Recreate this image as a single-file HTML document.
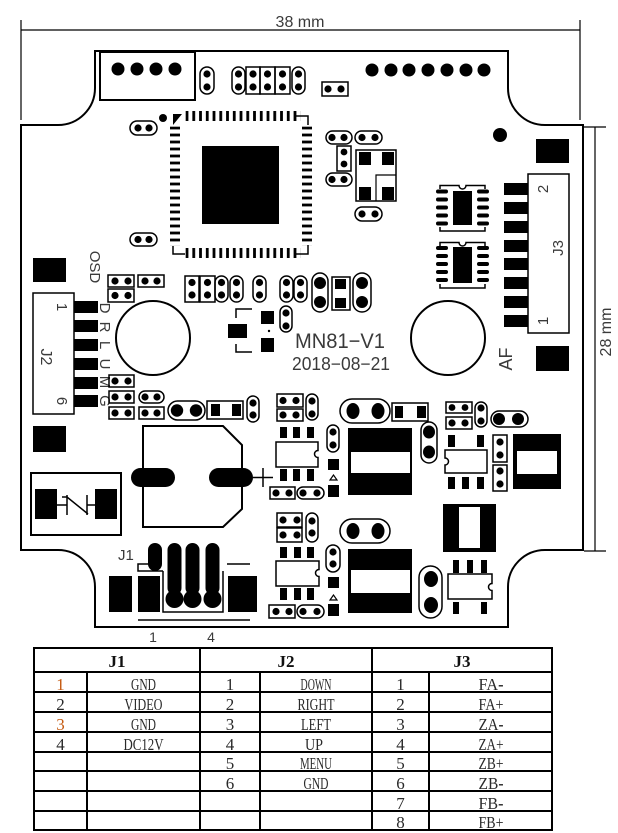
<!DOCTYPE html>
<html><head><meta charset="utf-8"><style>
html,body{margin:0;padding:0;background:#fff;}
svg{display:block;}
.o{fill:none;stroke:#000;stroke-width:1.5}
.b{fill:none;stroke:#000;stroke-width:2}
.l{fill:none;stroke:#000;stroke-width:1.2}
.t{font-family:"Liberation Sans",sans-serif;fill:#3a3a3a}
.s{font-family:"Liberation Serif",serif;fill:#2a2a2a;font-size:17px;text-anchor:middle}
.h{font-family:"Liberation Serif",serif;fill:#111;font-size:17px;font-weight:bold;text-anchor:middle}
</style></head><body>
<svg width="618" height="833" viewBox="0 0 618 833" xmlns="http://www.w3.org/2000/svg">
<defs>
<pattern id="pv" patternUnits="userSpaceOnUse" x="185.6" y="0" width="6.75" height="400"><rect x="0" y="0" width="2.8" height="400" fill="#000"/></pattern>
<pattern id="ph" patternUnits="userSpaceOnUse" x="0" y="126.6" width="400" height="7"><rect x="0" y="0" width="400" height="2.8" fill="#000"/></pattern>
</defs>
<rect width="618" height="833" fill="#fff"/>

<!-- dimensions -->
<line x1="21" y1="30" x2="580" y2="30" class="l"/>
<line x1="21" y1="20" x2="21" y2="120" class="l"/>
<line x1="580" y1="20" x2="580" y2="120" class="l"/>
<text x="300" y="27" font-size="16" text-anchor="middle" class="t">38 mm</text>
<line x1="595" y1="127" x2="595" y2="551" class="l"/>
<line x1="584" y1="127" x2="606" y2="127" class="l"/>
<line x1="584" y1="551" x2="606" y2="551" class="l"/>
<text transform="translate(611,332) rotate(-90)" font-size="16" text-anchor="middle" class="t">28 mm</text>

<!-- board outline -->
<path class="b" d="M95,51 L508,51 L508,88 A37,37 0 0 0 545,125 L583,125 L583,550 L545,550 A37,37 0 0 0 508,587 L508,627 L95,627 L95,587 A37,37 0 0 0 58,550 L21,550 L21,125 L58,125 A37,37 0 0 0 95,88 Z"/>

<!-- top 4-dot connector -->
<rect x="100" y="52" width="95" height="48" class="b"/>
<g fill="#000"><circle cx="118" cy="69" r="6.5"/><circle cx="137" cy="69" r="6.5"/><circle cx="156" cy="69" r="6.5"/><circle cx="175" cy="69" r="6.5"/></g>

<!-- top pads -->
<rect x="200" y="67" width="14" height="27" rx="7" class="o"/>
<rect x="232" y="67" width="13" height="27" rx="6.5" class="o"/>
<rect x="246" y="67" width="14" height="27" class="o"/>
<rect x="260" y="67" width="15" height="27" class="o"/>
<rect x="275" y="67" width="15" height="27" class="o"/>
<rect x="292" y="67" width="13" height="27" rx="6.5" class="o"/>
<rect x="322" y="82" width="26" height="14" class="o"/>
<g fill="#000">
<circle cx="207" cy="74" r="3.6"/><circle cx="207" cy="87" r="3.6"/>
<circle cx="238.5" cy="74" r="3.6"/><circle cx="238.5" cy="87" r="3.6"/>
<circle cx="253" cy="74" r="3.6"/><circle cx="253" cy="87" r="3.6"/>
<circle cx="267.5" cy="74" r="3.6"/><circle cx="267.5" cy="87" r="3.6"/>
<circle cx="282.5" cy="74" r="3.6"/><circle cx="282.5" cy="87" r="3.6"/>
<circle cx="298.5" cy="74" r="3.6"/><circle cx="298.5" cy="87" r="3.6"/>
<circle cx="328" cy="89" r="3.6"/><circle cx="341" cy="89" r="3.6"/>
<circle cx="372" cy="70" r="6.5"/><circle cx="391" cy="70" r="6.5"/><circle cx="409" cy="70" r="6.5"/><circle cx="428" cy="70" r="6.5"/><circle cx="447" cy="70" r="6.5"/><circle cx="466" cy="70" r="6.5"/><circle cx="484" cy="70" r="6.5"/>
<circle cx="500" cy="135" r="7"/>
<circle cx="163" cy="118" r="4"/>
<polygon points="173,114 182,114 173,125"/>
</g>
<rect x="130" y="121" width="27" height="14" rx="7" class="o"/>
<rect x="130" y="233" width="27" height="13" rx="6.5" class="o"/>
<g fill="#000"><circle cx="138" cy="128" r="3.6"/><circle cx="149" cy="128" r="3.6"/><circle cx="138" cy="239.5" r="3.6"/><circle cx="149" cy="239.5" r="3.6"/></g>

<!-- QFP IC -->
<rect x="185.6" y="111" width="114.75" height="10" fill="url(#pv)"/>
<rect x="185.6" y="248" width="114.75" height="10" fill="url(#pv)"/>
<rect x="170" y="126.6" width="10" height="119" fill="url(#ph)"/>
<rect x="302" y="126.6" width="10" height="119" fill="url(#ph)"/>
<rect x="202" y="146" width="77" height="78" fill="#000"/>
<polyline points="296,116 308,116 308,125" class="o" stroke-width="2"/>
<polyline points="173,246 173,254 185,254" class="o" stroke-width="2"/>
<polyline points="308,245 308,254 296,254" class="o" stroke-width="2"/>

<!-- right of IC -->
<rect x="326" y="131" width="26" height="13" rx="6.5" class="o"/>
<rect x="355" y="131" width="27" height="13" rx="6.5" class="o"/>
<rect x="337" y="146" width="14" height="25" class="o"/>
<rect x="326" y="173" width="26" height="13" rx="6.5" class="o"/>
<rect x="355" y="207" width="27" height="14" rx="7" class="o"/>
<g fill="#000">
<circle cx="332" cy="137.5" r="3.6"/><circle cx="344" cy="137.5" r="3.6"/>
<circle cx="362" cy="137.5" r="3.6"/><circle cx="375" cy="137.5" r="3.6"/>
<circle cx="344" cy="152" r="3.4"/><circle cx="344" cy="164" r="3.4"/>
<circle cx="332" cy="179.5" r="3.6"/><circle cx="344" cy="179.5" r="3.6"/>
<circle cx="362" cy="214" r="3.6"/><circle cx="375" cy="214" r="3.6"/>
</g>
<rect x="356" y="150" width="40" height="51" class="o"/>
<g fill="#000"><rect x="359" y="152" width="12" height="13"/><rect x="382" y="152" width="12" height="13"/><rect x="359" y="187" width="12" height="13"/><rect x="382" y="187" width="12" height="13"/></g>
<polyline points="396,175 376,175 376,201" class="l"/>

<!-- SOIC ICs -->
<g fill="#000">
<rect x="436" y="189.5" width="12" height="4" rx="2"/><rect x="436" y="197.5" width="12" height="4" rx="2"/><rect x="436" y="205.5" width="12" height="4" rx="2"/><rect x="436" y="213.5" width="12" height="4" rx="2"/><rect x="436" y="221.5" width="12" height="4" rx="2"/>
<rect x="477" y="189.5" width="12" height="4" rx="2"/><rect x="477" y="197.5" width="12" height="4" rx="2"/><rect x="477" y="205.5" width="12" height="4" rx="2"/><rect x="477" y="213.5" width="12" height="4" rx="2"/><rect x="477" y="221.5" width="12" height="4" rx="2"/>
<rect x="453" y="191" width="19" height="34"/>
<rect x="436" y="246" width="12" height="4" rx="2"/><rect x="436" y="254" width="12" height="4" rx="2"/><rect x="436" y="262" width="12" height="4" rx="2"/><rect x="436" y="270" width="12" height="4" rx="2"/><rect x="436" y="278" width="12" height="4" rx="2"/>
<rect x="477" y="246" width="12" height="4" rx="2"/><rect x="477" y="254" width="12" height="4" rx="2"/><rect x="477" y="262" width="12" height="4" rx="2"/><rect x="477" y="270" width="12" height="4" rx="2"/><rect x="477" y="278" width="12" height="4" rx="2"/>
<rect x="453" y="247" width="19" height="36"/>
</g>
<path class="o" d="M440,189 V185.5 H459 A3.5,3.5 0 0 0 466,185.5 H485 V189"/>
<path class="o" d="M440,227 V231 H485 V227"/>
<path class="o" d="M440,246 V242.5 H459 A3.5,3.5 0 0 0 466,242.5 H485 V246"/>
<path class="o" d="M440,284 V288 H485 V284"/>

<!-- J3 -->
<rect x="528" y="174" width="41" height="159" class="o"/>
<g fill="#000">
<rect x="504" y="183" width="24" height="12"/><rect x="504" y="202" width="24" height="12"/><rect x="504" y="221" width="24" height="12"/><rect x="504" y="240" width="24" height="12"/><rect x="504" y="258" width="24" height="12"/><rect x="504" y="277" width="24" height="12"/><rect x="504" y="296" width="24" height="12"/><rect x="504" y="315" width="24" height="12"/>
<rect x="536" y="139" width="33" height="24"/><rect x="536" y="346" width="33" height="25"/>
</g>
<text transform="translate(548,189) rotate(-90)" font-size="15" text-anchor="middle" class="t">2</text>
<text transform="translate(563,248) rotate(-90)" font-size="15" text-anchor="middle" class="t">J3</text>
<text transform="translate(548,321) rotate(-90)" font-size="15" text-anchor="middle" class="t">1</text>
<text transform="translate(512,359) rotate(-90)" font-size="18" text-anchor="middle" class="t">AF</text>

<!-- circles -->
<circle cx="153" cy="338" r="37" class="b"/>
<circle cx="448" cy="338" r="37" class="b"/>

<!-- J2 -->
<g fill="#000">
<rect x="33" y="258" width="33" height="24"/><rect x="33" y="426" width="33" height="26"/>
<rect x="74" y="301" width="24" height="12"/><rect x="74" y="320" width="24" height="12"/><rect x="74" y="339" width="24" height="12"/><rect x="74" y="358" width="24" height="12"/><rect x="74" y="377" width="24" height="12"/><rect x="74" y="395" width="24" height="12"/>
</g>
<rect x="33" y="293" width="41" height="121" class="o"/>
<text transform="translate(57,307) rotate(90)" font-size="15" text-anchor="middle" class="t">1</text>
<text transform="translate(41,357) rotate(90)" font-size="16" text-anchor="middle" class="t">J2</text>
<text transform="translate(57,401) rotate(90)" font-size="15" text-anchor="middle" class="t">6</text>
<text transform="translate(90,267) rotate(90)" font-size="15" text-anchor="middle" class="t">OSD</text>
<g class="t" font-size="15" text-anchor="middle">
<text transform="translate(100,308) rotate(90)">D</text>
<text transform="translate(100,327) rotate(90)">R</text>
<text transform="translate(100,345) rotate(90)">L</text>
<text transform="translate(100,364) rotate(90)">U</text>
<text transform="translate(100,382) rotate(90)">M</text>
<text transform="translate(100,401) rotate(90)">G</text>
</g>

<!-- OSD pads -->
<rect x="108" y="275" width="26" height="12" class="o"/>
<rect x="138" y="275" width="26" height="12" class="o"/>
<rect x="108" y="289" width="26" height="13" class="o"/>
<rect x="109" y="375" width="25" height="12" class="o"/>
<rect x="109" y="391" width="25" height="12" class="o"/>
<rect x="109" y="407" width="25" height="12" class="o"/>
<rect x="139" y="391" width="25" height="12" rx="6" class="o"/>
<rect x="139" y="407" width="25" height="12" class="o"/>
<rect x="168" y="401" width="37" height="19" rx="9.5" class="o"/>
<rect x="207" y="401" width="36" height="18" class="o"/>
<rect x="247" y="396" width="12" height="26" rx="6" class="o"/>
<g fill="#000">
<circle cx="115" cy="281" r="3.6"/><circle cx="128" cy="281" r="3.6"/>
<circle cx="145" cy="281" r="3.6"/><circle cx="157" cy="281" r="3.6"/>
<circle cx="115" cy="295.5" r="3.6"/><circle cx="128" cy="295.5" r="3.6"/>
<circle cx="115" cy="381" r="3.6"/><circle cx="128" cy="381" r="3.6"/>
<circle cx="115" cy="397" r="3.6"/><circle cx="128" cy="397" r="3.6"/>
<circle cx="115" cy="413" r="3.6"/><circle cx="128" cy="413" r="3.6"/>
<circle cx="145" cy="397" r="3.6"/><circle cx="157" cy="397" r="3.6"/>
<circle cx="145" cy="413" r="3.6"/><circle cx="157" cy="413" r="3.6"/>
<circle cx="177" cy="410.5" r="6.2"/><circle cx="196" cy="410.5" r="6.2"/>
<rect x="211" y="404" width="9" height="12"/><rect x="232" y="404" width="9" height="12"/>
<circle cx="253" cy="403" r="3.6"/><circle cx="253" cy="415" r="3.6"/>
</g>

<!-- pad row under IC -->
<rect x="185" y="276" width="14" height="26" class="o"/>
<rect x="200" y="276" width="15" height="26" class="o"/>
<rect x="215" y="276" width="13" height="26" rx="6.5" class="o"/>
<rect x="230" y="276" width="13" height="26" rx="6.5" class="o"/>
<rect x="253" y="276" width="13" height="26" rx="6.5" class="o"/>
<rect x="280" y="276" width="13" height="26" rx="6.5" class="o"/>
<rect x="294" y="276" width="13" height="26" rx="6.5" class="o"/>
<rect x="312" y="273" width="16" height="39" rx="8" class="o"/>
<rect x="332" y="277" width="18" height="33" class="o"/>
<rect x="353" y="273" width="18" height="39" rx="9" class="o"/>
<rect x="280" y="306" width="12" height="26" rx="6" class="o"/>
<g fill="#000">
<circle cx="192" cy="282.5" r="3.6"/><circle cx="192" cy="295" r="3.6"/>
<circle cx="207.5" cy="282.5" r="3.6"/><circle cx="207.5" cy="295" r="3.6"/>
<circle cx="221.5" cy="282.5" r="3.6"/><circle cx="221.5" cy="295" r="3.6"/>
<circle cx="236.5" cy="282.5" r="3.6"/><circle cx="236.5" cy="295" r="3.6"/>
<circle cx="259.5" cy="282.5" r="3.6"/><circle cx="259.5" cy="295" r="3.6"/>
<circle cx="286.5" cy="282.5" r="3.6"/><circle cx="286.5" cy="295" r="3.6"/>
<circle cx="300.5" cy="282.5" r="3.6"/><circle cx="300.5" cy="295" r="3.6"/>
<circle cx="320" cy="283" r="6"/><circle cx="320" cy="302" r="6"/>
<rect x="335" y="279" width="11" height="10"/><rect x="335" y="298" width="11" height="10"/>
<circle cx="362" cy="283" r="6"/><circle cx="362" cy="302" r="6"/>
<circle cx="286" cy="313" r="3.6"/><circle cx="286" cy="326" r="3.6"/>
<rect x="228" y="324" width="19" height="14"/>
<rect x="261" y="311" width="13" height="13"/><rect x="261" y="338" width="13" height="14"/>
<circle cx="269" cy="331" r="1.2"/>
</g>
<polyline points="252,309 236,309 236,318" class="o"/>
<polyline points="236,344 236,352 252,352" class="o"/>

<text x="295" y="348" font-size="21" class="t" textLength="90" lengthAdjust="spacingAndGlyphs">MN81−V1</text>
<text x="292" y="370" font-size="18" class="t" textLength="98" lengthAdjust="spacingAndGlyphs">2018−08−21</text>

<!-- battery holder -->
<polygon points="143,426 223,426 242,445 242,509 223,527 143,527" class="b"/>
<rect x="131" y="468" width="44" height="19" rx="9.5" fill="#000"/>
<rect x="209" y="468" width="44" height="19" rx="9.5" fill="#000"/>
<line x1="253" y1="477.5" x2="273" y2="477.5" class="o" stroke-width="2"/>
<line x1="263" y1="468" x2="263" y2="487" class="o" stroke-width="2"/>

<!-- varistor -->
<rect x="31" y="473" width="90" height="62" class="b"/>
<g fill="#000"><rect x="35" y="489" width="22" height="30"/><rect x="95" y="489" width="22" height="30"/></g>
<g class="o" stroke-width="2">
<line x1="57" y1="505" x2="67" y2="505"/>
<line x1="67" y1="495" x2="67" y2="515"/>
<line x1="87" y1="495" x2="87" y2="515"/>
<line x1="87" y1="505" x2="95" y2="505"/>
<polyline points="62,497 67,497 88,514"/>
</g>

<!-- J1 -->
<text x="118" y="560" font-size="15" class="t">J1</text>
<g fill="#000">
<rect x="109" y="576" width="23" height="36"/>
<rect x="138" y="576" width="22" height="36"/>
<rect x="228" y="576" width="29" height="36"/>
<rect x="148" y="543" width="14" height="28" rx="7"/>
<rect x="167.5" y="543" width="14" height="52" rx="7"/><circle cx="174.5" cy="599" r="9"/>
<rect x="185.5" y="543" width="14" height="52" rx="7"/><circle cx="192.5" cy="599" r="9"/>
<rect x="205.5" y="543" width="14" height="52" rx="7"/><circle cx="212.5" cy="599" r="9"/>
</g>
<polyline points="150,564 138,564 138,571 163,571" class="o"/>
<polyline points="163,571 163,612 223,612 223,571" class="o"/>
<line x1="227" y1="564" x2="250" y2="564" class="o"/>
<line x1="138" y1="620" x2="250" y2="620" class="o"/>
<text x="153" y="642" font-size="14" text-anchor="middle" class="t">1</text>
<text x="211" y="642" font-size="14" text-anchor="middle" class="t">4</text>

<!-- middle column upper -->
<rect x="277" y="394" width="26" height="13" class="o"/>
<rect x="277" y="409" width="26" height="12" class="o"/>
<rect x="306" y="394" width="12" height="26" rx="6" class="o"/>
<path class="o" d="M276,442 H318 V450.5 A3.5,3.5 0 0 0 318,457.5 V467 H276 Z"/>
<rect x="327" y="425" width="12" height="27" rx="6" class="o"/>
<polygon points="333.5,475 330,480 337,480" class="l"/>
<rect x="270" y="487" width="25" height="12" class="o"/>
<rect x="297" y="487" width="27" height="12" rx="6" class="o"/>
<g fill="#000">
<circle cx="283" cy="400.5" r="3.6"/><circle cx="296" cy="400.5" r="3.6"/>
<circle cx="283" cy="415" r="3.6"/><circle cx="296" cy="415" r="3.6"/>
<circle cx="312" cy="401" r="3.6"/><circle cx="312" cy="414" r="3.6"/>
<rect x="280" y="427" width="7" height="11"/><rect x="293" y="427" width="7" height="11"/><rect x="307" y="427" width="7" height="11"/>
<rect x="280" y="469" width="7" height="12"/><rect x="293" y="469" width="7" height="12"/><rect x="307" y="469" width="7" height="12"/>
<circle cx="333" cy="432" r="3.6"/><circle cx="333" cy="445" r="3.6"/>
<rect x="328" y="459" width="11" height="11"/><rect x="328" y="485" width="11" height="12"/>
<circle cx="276" cy="493" r="3.6"/><circle cx="289" cy="493" r="3.6"/>
<circle cx="303" cy="493" r="3.6"/><circle cx="317" cy="493" r="3.6"/>
</g>

<!-- middle column lower -->
<rect x="277" y="513" width="25" height="14" class="o"/>
<rect x="277" y="528" width="25" height="14" class="o"/>
<rect x="306" y="513" width="12" height="29" rx="6" class="o"/>
<path class="o" d="M276,561 H319 V569.5 A3.5,3.5 0 0 0 319,576.5 V586 H276 Z"/>
<rect x="326" y="545" width="14" height="27" rx="7" class="o"/>
<polygon points="333.5,595 330,600 337,600" class="l"/>
<rect x="269" y="605" width="26" height="13" class="o"/>
<rect x="297" y="605" width="27" height="13" rx="6.5" class="o"/>
<g fill="#000">
<circle cx="283" cy="520" r="3.6"/><circle cx="297" cy="520" r="3.6"/>
<circle cx="283" cy="535" r="3.6"/><circle cx="297" cy="535" r="3.6"/>
<circle cx="312" cy="521" r="3.6"/><circle cx="312" cy="533" r="3.6"/>
<rect x="280" y="547" width="7" height="11"/><rect x="294" y="547" width="7" height="11"/><rect x="307" y="547" width="7" height="11"/>
<rect x="280" y="588" width="7" height="12"/><rect x="294" y="588" width="7" height="12"/><rect x="307" y="588" width="7" height="12"/>
<circle cx="333" cy="552" r="3.6"/><circle cx="333" cy="564" r="3.6"/>
<rect x="328" y="577" width="11" height="11"/><rect x="328" y="604" width="11" height="12"/>
<circle cx="276" cy="611.5" r="3.6"/><circle cx="289" cy="611.5" r="3.6"/>
<circle cx="303" cy="611.5" r="3.6"/><circle cx="317" cy="611.5" r="3.6"/>
</g>

<!-- right upper components -->
<rect x="340" y="399" width="50" height="24" rx="12" class="o"/>
<rect x="392" y="403" width="36" height="18" class="o"/>
<rect x="421" y="422" width="16" height="41" rx="8" class="o"/>
<rect x="446" y="402" width="26" height="11" class="o"/>
<rect x="446" y="417" width="26" height="12" class="o"/>
<rect x="475" y="402" width="12" height="25" rx="6" class="o"/>
<rect x="491" y="411" width="37" height="16" rx="8" class="o"/>
<path class="o" d="M445,450 H487 V473 H445 V465 A3.5,3.5 0 0 0 445,458 Z"/>
<rect x="493" y="435" width="14" height="27" class="o"/>
<rect x="493" y="465" width="14" height="26" class="o"/>
<g fill="#000">
<ellipse cx="353" cy="411" rx="6.5" ry="8"/><ellipse cx="378" cy="411" rx="6.5" ry="8"/>
<rect x="395" y="406" width="8" height="12"/><rect x="417" y="406" width="9" height="12"/>
<rect x="348" y="428" width="64" height="67"/>
<ellipse cx="429" cy="432" rx="6" ry="6.5"/><ellipse cx="429" cy="452" rx="6" ry="6.5"/>
<circle cx="452" cy="407.5" r="3.4"/><circle cx="465" cy="407.5" r="3.4"/>
<circle cx="452" cy="423" r="3.6"/><circle cx="465" cy="423" r="3.6"/>
<circle cx="481" cy="408" r="3.6"/><circle cx="481" cy="421" r="3.6"/>
<circle cx="499" cy="419" r="6"/><circle cx="518" cy="419" r="6"/>
<rect x="448" y="435" width="7" height="12"/><rect x="477" y="435" width="7" height="12"/>
<rect x="448" y="477" width="7" height="12"/><rect x="462" y="477" width="7" height="12"/><rect x="477" y="477" width="7" height="12"/>
<circle cx="500" cy="442" r="3.6"/><circle cx="500" cy="455" r="3.6"/>
<circle cx="500" cy="471" r="3.6"/><circle cx="500" cy="484" r="3.6"/>
<rect x="513" y="434" width="48" height="55"/>
</g>
<rect x="351" y="452" width="59" height="21" fill="#fff"/>
<rect x="517" y="451" width="40" height="23" fill="#fff"/>

<!-- right lower components -->
<rect x="340" y="519" width="50" height="24" rx="12" class="o"/>
<rect x="419" y="566" width="23" height="52" rx="11.5" class="o"/>
<path class="o" d="M448,574 H492 V583.5 A3.5,3.5 0 0 0 492,590.5 V599 H448 Z"/>
<g fill="#000">
<rect x="443" y="504" width="53" height="48"/>
<ellipse cx="353" cy="531" rx="6.5" ry="8"/><ellipse cx="378" cy="531" rx="6.5" ry="8"/>
<rect x="348" y="549" width="64" height="64"/>
<ellipse cx="431" cy="579" rx="7" ry="8"/><ellipse cx="431" cy="605" rx="7" ry="8"/>
<rect x="453" y="560" width="6" height="13"/><rect x="467" y="560" width="6" height="13"/><rect x="481" y="560" width="6" height="13"/>
<rect x="453" y="602" width="6" height="12"/><rect x="481" y="602" width="6" height="12"/>
</g>
<rect x="459" y="507" width="21" height="41" fill="#fff"/>
<rect x="351" y="570" width="59" height="23" fill="#fff"/>

<!-- table -->
<g stroke="#000" stroke-width="2" fill="none">
<rect x="34" y="648" width="518" height="182"/>
<line x1="34" y1="672" x2="552" y2="672"/>
<line x1="34" y1="692" x2="552" y2="692"/>
<line x1="34" y1="712" x2="552" y2="712"/>
<line x1="34" y1="732" x2="552" y2="732"/>
<line x1="34" y1="752" x2="552" y2="752"/>
<line x1="34" y1="771" x2="552" y2="771"/>
<line x1="34" y1="791" x2="552" y2="791"/>
<line x1="34" y1="811" x2="552" y2="811"/>
<line x1="200" y1="648" x2="200" y2="830"/>
<line x1="372" y1="648" x2="372" y2="830"/>
<line x1="87" y1="672" x2="87" y2="830"/>
<line x1="260" y1="672" x2="260" y2="830"/>
<line x1="429" y1="672" x2="429" y2="830"/>
</g>
<text x="117" y="667" class="h">J1</text>
<text x="286" y="667" class="h">J2</text>
<text x="462" y="667" class="h">J3</text>

<text x="60.5" y="690" class="s" fill="#c55a11" style="fill:#c55a11">1</text>
<text x="60.5" y="710" class="s">2</text>
<text x="60.5" y="730" class="s" style="fill:#c55a11">3</text>
<text x="60.5" y="750" class="s">4</text>
<text x="143.5" y="690" class="s" textLength="25" lengthAdjust="spacingAndGlyphs">GND</text>
<text x="143.5" y="710" class="s" textLength="38" lengthAdjust="spacingAndGlyphs">VIDEO</text>
<text x="143.5" y="730" class="s" textLength="25" lengthAdjust="spacingAndGlyphs">GND</text>
<text x="143.5" y="750" class="s" textLength="40" lengthAdjust="spacingAndGlyphs">DC12V</text>

<text x="230" y="690" class="s">1</text>
<text x="230" y="710" class="s">2</text>
<text x="230" y="730" class="s">3</text>
<text x="230" y="750" class="s">4</text>
<text x="230" y="769" class="s">5</text>
<text x="230" y="789" class="s">6</text>
<text x="316" y="690" class="s" textLength="31" lengthAdjust="spacingAndGlyphs">DOWN</text>
<text x="316" y="710" class="s" textLength="37" lengthAdjust="spacingAndGlyphs">RIGHT</text>
<text x="316" y="730" class="s" textLength="30" lengthAdjust="spacingAndGlyphs">LEFT</text>
<text x="314" y="750" class="s" textLength="18" lengthAdjust="spacingAndGlyphs">UP</text>
<text x="316" y="769" class="s" textLength="32" lengthAdjust="spacingAndGlyphs">MENU</text>
<text x="316" y="789" class="s" textLength="25" lengthAdjust="spacingAndGlyphs">GND</text>

<text x="400.5" y="690" class="s">1</text>
<text x="400.5" y="710" class="s">2</text>
<text x="400.5" y="730" class="s">3</text>
<text x="400.5" y="750" class="s">4</text>
<text x="400.5" y="769" class="s">5</text>
<text x="400.5" y="789" class="s">6</text>
<text x="400.5" y="809" class="s">7</text>
<text x="400.5" y="828" class="s">8</text>
<text x="491" y="690" class="s" textLength="25" lengthAdjust="spacingAndGlyphs">FA<tspan font-weight="bold">-</tspan></text>
<text x="491" y="710" class="s" textLength="25" lengthAdjust="spacingAndGlyphs">FA+</text>
<text x="491" y="730" class="s" textLength="25" lengthAdjust="spacingAndGlyphs">ZA<tspan font-weight="bold">-</tspan></text>
<text x="491" y="750" class="s" textLength="25" lengthAdjust="spacingAndGlyphs">ZA+</text>
<text x="491" y="769" class="s" textLength="25" lengthAdjust="spacingAndGlyphs">ZB+</text>
<text x="491" y="789" class="s" textLength="25" lengthAdjust="spacingAndGlyphs">ZB<tspan font-weight="bold">-</tspan></text>
<text x="491" y="809" class="s" textLength="25" lengthAdjust="spacingAndGlyphs">FB<tspan font-weight="bold">-</tspan></text>
<text x="491" y="828" class="s" textLength="25" lengthAdjust="spacingAndGlyphs">FB+</text>
</svg>
</body></html>
